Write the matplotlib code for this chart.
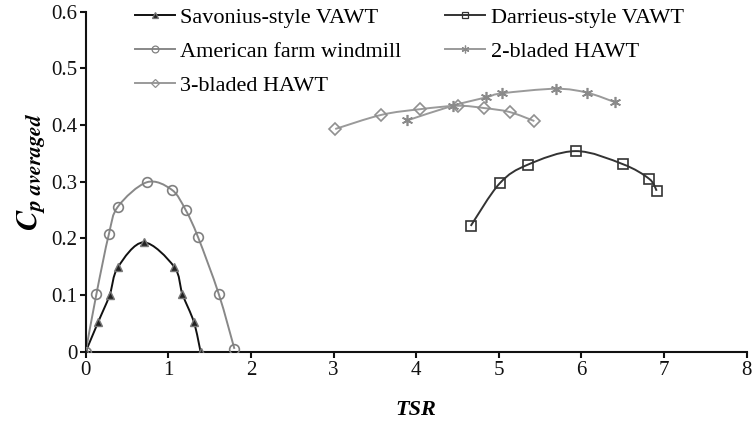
import numpy as np
import matplotlib
matplotlib.use("Agg")
import matplotlib.pyplot as plt
from matplotlib.path import Path
from matplotlib.patches import PathPatch
from matplotlib.lines import Line2D

plt.rcParams['font.family'] = ['Liberation Serif', 'DejaVu Serif']
plt.rcParams['mathtext.fontset'] = 'stix'

# ---- data ----
sav_x = [0.0, 0.15, 0.29, 0.39, 0.70, 1.07, 1.17, 1.31, 1.39]
sav_y = [0.0, 0.052, 0.100, 0.149, 0.193, 0.150, 0.102, 0.052, 0.0]

ame_x = [0.0, 0.13, 0.28, 0.39, 0.74, 1.04, 1.21, 1.36, 1.61, 1.80]
ame_y = [0.0, 0.102, 0.207, 0.256, 0.299, 0.286, 0.250, 0.202, 0.102, 0.005]

dar_x = [4.66, 5.01, 5.35, 5.93, 6.50, 6.82, 6.91]
dar_y = [0.222, 0.297, 0.330, 0.354, 0.331, 0.305, 0.284]

two_x = [3.89, 4.44, 4.85, 5.04, 5.69, 6.07, 6.41]
two_y = [0.408, 0.434, 0.449, 0.456, 0.464, 0.457, 0.440]

three_x = [3.02, 3.58, 4.05, 4.50, 4.82, 5.13, 5.43]
three_y = [0.393, 0.418, 0.428, 0.434, 0.430, 0.423, 0.407]

labels = ["Savonius-style VAWT", "American farm windmill", "3-bladed HAWT",
          "Darrieus-style VAWT", "2-bladed HAWT"]

x_ticks = [0, 1, 2, 3, 4, 5, 6, 7, 8]
y_ticks = [0, 0.1, 0.2, 0.3, 0.4, 0.5, 0.6]
y_ticklabels = ["0", "0.1", "0.2", "0.3", "0.4", "0.5", "0.6"]


def smooth_path(xs, ys):
    p = np.column_stack([xs, ys]).astype(float)
    n = len(p)
    verts = [p[0]]
    codes = [Path.MOVETO]
    for i in range(n - 1):
        p0 = p[i - 1] if i > 0 else p[i]
        p1 = p[i]
        p2 = p[i + 1]
        p3 = p[i + 2] if i + 2 < n else p[i + 1]
        c1 = p1 + (p2 - p0) / 6.0
        c2 = p2 - (p3 - p1) / 6.0
        verts += [c1, c2, p2]
        codes += [Path.CURVE4] * 3
    return Path(verts, codes)


fig = plt.figure(figsize=(7.55, 4.21), dpi=100)
ax = fig.add_axes([85.7 / 755, 1 - 351.7 / 421, (746.7 - 85.7) / 755, (351.7 - 11.7) / 421])

series = [
    (sav_x, sav_y, '#111111', dict(marker='^', ms=6, mfc='#222222', mec='#777777', mew=1.0)),
    (ame_x, ame_y, '#888888', dict(marker='o', ms=7, mfc='none', mec='#808080', mew=1.2)),
    (three_x, three_y, '#9a9a9a', dict(marker='D', ms=6, mfc='none', mec='#909090', mew=1.2)),
    (dar_x, dar_y, '#333333', dict(marker='s', ms=6.5, mfc='none', mec='#333333', mew=1.2)),
    (two_x, two_y, '#9a9a9a', dict(marker=(6, 2, 0), ms=8, mfc='none', mec='#8a8a8a', mew=1.2)),
]

handles = []
for (xs, ys, col, mk), lab in zip(series, labels):
    patch = PathPatch(smooth_path(xs, ys), facecolor='none', edgecolor=col, lw=1.4, zorder=2)
    ax.add_patch(patch)
    ax.plot(xs, ys, linestyle='none', zorder=3, **mk)
    hmk = dict(mk)
    hmk['ms'] = mk['ms'] * 0.7
    hmk['mew'] = 0.9
    handles.append(Line2D([], [], color=col, lw=1.4, **hmk))

ax.set_xlim(0, 8)
ax.set_ylim(0, 0.6)
ax.set_xticks(x_ticks)
ax.set_xticklabels([str(t) for t in x_ticks])
ax.set_yticks(y_ticks)
ax.set_yticklabels(y_ticklabels)
for s in ['top', 'right']:
    ax.spines[s].set_visible(False)
for s in ['left', 'bottom']:
    ax.spines[s].set_linewidth(1.5)
    ax.spines[s].set_color('#111111')
ax.tick_params(axis='both', direction='out', length=4, width=1.5, labelsize=15, colors='#111111')
ax.tick_params(axis='x', pad=3)
ax.tick_params(axis='y', pad=2)

ax.set_xlabel('TSR', fontsize=16, fontweight='bold', fontstyle='italic', labelpad=14)
ax.set_ylabel(r'$\mathbfit{C}_{\mathbfit{p\ averaged}}$', fontsize=22)
ax.yaxis.set_label_coords(-0.059, 0.53)

leg = ax.legend(handles, labels, ncol=2, loc='upper left', bbox_to_anchor=(0.061, 1.039),
                frameon=False, fontsize=16, handlelength=1.8, handletextpad=0.25,
                columnspacing=1.95, labelspacing=0.6, borderaxespad=0)

fig.savefig('out.png', dpi=100, facecolor='white')
